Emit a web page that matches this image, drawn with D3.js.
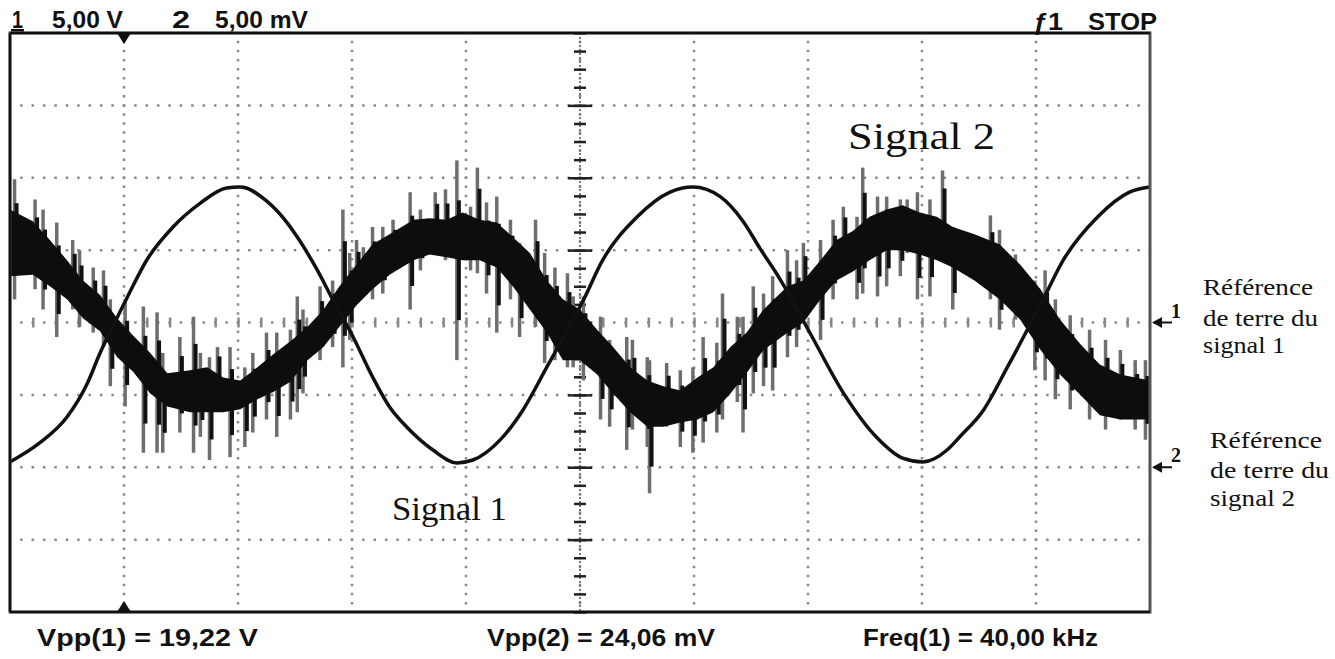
<!DOCTYPE html>
<html>
<head>
<meta charset="utf-8">
<script src="https://cdn.jsdelivr.net/npm/d3@7"></script>
<style>
body{margin:0;background:#fff}
.lbl{font-family:"Liberation Sans",Arial,sans-serif;font-weight:bold;font-size:23px;fill:#111}
.ann{font-family:"Liberation Serif","Times New Roman",serif;fill:#111}
</style>
</head>
<body>
<script>
// channel 1 : smooth sine, time in divisions, volts (5 V/div, ground at centre)
var ch1Time=[0,0.26,0.50,0.68,0.79,0.90,1.03,1.20,1.43,1.67,1.90,2.02,2.25,2.43,2.52,2.69,2.83,3.01,3.18,3.33,3.48,3.71,3.92,4.06,4.30,4.50,4.71,5.03,5.20,5.50,5.79,5.99,6.23,6.43,6.58,6.75,7.02,7.31,7.61,7.83,8.01,8.22,8.33,8.54,8.75,9.06,9.24,9.54,9.82,10.00];
var ch1Volt=[-9.63,-8.32,-6.53,-4.18,-2.11,-0.31,1.76,4.32,6.60,8.25,9.29,9.36,8.40,6.90,5.90,3.70,1.60,-1.00,-3.76,-5.84,-7.22,-8.81,-9.70,-9.50,-8.11,-6.04,-3.07,1.55,4.32,7.29,9.01,9.36,8.70,7.00,5.10,3.05,-0.76,-4.86,-8.00,-9.37,-9.63,-8.81,-7.91,-6.04,-3.07,1.55,4.32,7.29,9.01,9.36];

// channel 2 : noisy trace, dense core band (mV, 5 mV/div, ground 2 div below centre)
var ch2Time=[0,0.20,0.35,0.50,0.64,0.79,0.94,1.08,1.23,1.38,1.58,1.73,1.87,2.02,2.17,2.31,2.46,2.61,2.75,2.89,3.04,3.18,3.33,3.54,3.68,3.83,3.97,4.12,4.27,4.41,4.56,4.71,4.85,5.00,5.15,5.29,5.44,5.59,5.73,5.88,6.03,6.17,6.32,6.46,6.61,6.82,6.96,7.11,7.25,7.39,7.54,7.69,7.83,7.98,8.13,8.27,8.46,8.68,8.86,9.04,9.21,9.39,9.56,9.74,10.00];
var ch2High=[17.8,17.0,15.7,14.3,12.9,11.9,10.3,9.1,7.9,6.5,6.7,6.9,6.2,6.0,6.9,7.8,8.7,9.7,10.9,12.5,14.0,15.4,16.1,17.1,17.2,17.1,17.6,17.1,16.9,15.9,14.8,12.9,11.6,10.9,9.5,8.3,6.9,6.0,5.6,5.3,6.2,6.9,8.3,9.3,10.9,12.5,12.9,14.3,15.7,16.3,17.3,17.8,18.1,17.6,17.3,16.6,16.1,15.4,14.0,12.3,10.2,8.5,7.1,6.4,6.0];
var ch2Low=[13.2,13.3,12.5,11.6,10.3,9.4,7.6,6.6,5.1,4.2,3.8,3.8,3.8,4.0,4.7,5.2,5.9,7.4,8.3,9.7,11.2,12.3,13.3,14.3,14.7,14.5,14.3,14.3,13.8,12.5,10.9,9.3,7.4,7.4,6.4,5.1,3.8,2.8,2.8,3.1,3.3,3.8,5.1,6.5,8.1,9.3,10.0,11.6,12.9,13.5,14.3,15.0,15.0,14.7,14.3,13.8,12.9,11.6,10.2,8.1,6.4,5.0,3.6,3.3,3.3];

// channel 2 : noise spikes (min / max of each column, mV)
var spikeTime=[0.04,0.22,0.29,0.41,0.55,0.61,0.73,0.82,0.88,1.01,1.17,1.29,1.34,1.49,1.61,1.67,1.75,1.82,1.93,2.06,2.13,2.25,2.34,2.46,2.52,2.57,2.72,2.83,2.92,2.98,3.04,3.10,3.18,3.27,3.36,3.51,3.60,3.73,3.82,3.92,4.04,4.10,4.18,4.27,4.39,4.47,4.61,4.69,4.78,4.89,4.94,5.03,5.18,5.26,5.41,5.46,5.59,5.61,5.76,5.88,5.99,6.08,6.20,6.25,6.38,6.43,6.52,6.61,6.69,6.82,6.90,6.96,7.11,7.22,7.31,7.43,7.48,7.61,7.69,7.81,7.87,7.96,8.07,8.18,8.27,8.60,8.68,8.82,8.99,9.08,9.17,9.30,9.47,9.61,9.74,9.87,9.96];
var spikeHigh=[19.9,18.5,17.8,16.9,15.7,15.0,13.8,13.6,11.6,11.6,11.1,10.7,7.9,9.0,10.4,7.9,7.6,8.3,8.3,6.9,7.9,9.3,9.3,9.5,11.8,10.9,12.5,12.9,17.8,14.8,15.7,15.2,16.6,16.6,17.1,19.0,17.8,19.0,19.2,21.2,18.0,20.7,18.3,18.7,17.1,15.5,17.1,14.8,13.8,13.4,11.8,11.8,10.4,8.8,9.0,8.8,7.6,7.4,7.2,6.7,6.9,9.0,8.6,12.0,10.4,10.4,12.5,12.0,13.2,15.0,14.3,15.5,15.7,17.1,18.0,17.3,20.7,18.7,18.7,18.5,18.5,19.0,18.5,20.5,16.6,17.4,16.4,14.7,12.9,13.6,11.6,10.5,9.5,8.8,8.1,7.4,7.4];
var spikeLow=[11.6,12.3,10.9,9.0,10.9,9.7,9.3,8.3,5.6,4.2,1.0,1.0,1.0,2.4,1.0,2.1,0.5,5.1,0.7,1.4,2.4,3.3,2.1,3.3,3.8,5.1,7.4,8.3,6.9,8.8,11.6,12.0,11.6,12.0,13.6,10.9,13.6,15.0,14.3,7.4,13.6,13.4,12.0,9.3,11.6,9.0,9.7,7.2,7.4,6.9,6.9,6.0,3.3,2.8,1.2,2.6,1.4,-1.8,2.8,1.4,1.0,1.7,2.4,3.3,4.5,2.4,5.1,5.6,5.3,7.6,8.3,10.9,8.8,11.6,14.3,11.6,12.0,11.8,12.5,13.2,14.8,11.6,11.8,14.3,10.9,11.6,9.5,10.2,6.7,6.0,4.7,4.0,3.3,2.6,3.3,2.6,1.9];

var topLabels=["1","5,00 V","2","5,00 mV"];
var stopLabels=["ƒ1","STOP"];
var bottomLabels=["Vpp(1) = 19,22 V","Vpp(2) = 24,06 mV","Freq(1) = 40,00 kHz"];
var traceNames=["Signal 2","Signal 1"];
var groundNotes1=["Référence","de terre du","signal 1"];
var groundNotes2=["Référence","de terre du","signal 2"];

var W=1335,H=659,
    margin={top:33,left:10},
    width=1140,height=579;

var svg=d3.select("body").append("svg").attr("width",W).attr("height",H);

var x=d3.scaleLinear().domain([0,10]).range([0,width]);
var yDiv=d3.scaleLinear().domain([-4,4]).range([height,0]);
var y1=d3.scaleLinear().domain([-20,20]).range([height,0]);
var y2=d3.scaleLinear().domain([-10,30]).range([height,0]);

var g=svg.append("g").attr("transform","translate("+margin.left+","+margin.top+")");

svg.append("defs").append("clipPath").attr("id","clip")
  .append("rect").attr("width",width).attr("height",height);

// dotted graticule
g.selectAll(".hgrid").data(d3.range(-3,4)).enter().append("line")
  .attr("x1",0).attr("x2",width)
  .attr("y1",function(d){return yDiv(d);}).attr("y2",function(d){return yDiv(d);})
  .attr("stroke","#8a8a8a").attr("stroke-width",2.5)
  .attr("stroke-dasharray","2.5,8.9").attr("stroke-dashoffset",1.25);

g.selectAll(".vgrid").data(d3.range(1,10)).enter().append("line")
  .attr("y1",0).attr("y2",height)
  .attr("x1",function(d){return x(d);}).attr("x2",function(d){return x(d);})
  .attr("stroke","#8a8a8a").attr("stroke-width",2.5)
  .attr("stroke-dasharray","2.5,6.55").attr("stroke-dashoffset",1.25);

// centre axes
g.append("line").attr("x1",x(5)).attr("x2",x(5)).attr("y1",0).attr("y2",height)
  .attr("stroke","#777").attr("stroke-width",2).attr("stroke-dasharray","2,2");

function centreAxis(axis,values,size){
  g.append("g").attr("transform","translate("+x(5)+",0)")
    .call(axis(yDiv).tickValues(values).tickSize(size).tickFormat(""))
    .call(function(s){s.select(".domain").remove();
      s.selectAll("line").attr("stroke","#222").attr("stroke-width",2.5);});
}
var quarter=d3.range(-4,4.001,0.25);
centreAxis(d3.axisLeft,quarter,6);
centreAxis(d3.axisRight,quarter,6);
centreAxis(d3.axisLeft,d3.range(-3,4),12);
centreAxis(d3.axisRight,d3.range(-3,4),12);

function hAxis(axis){
  g.append("g").attr("transform","translate(0,"+yDiv(0)+")")
    .call(axis(x).tickValues(d3.range(0.2,10,0.2)).tickSize(5).tickFormat(""))
    .call(function(s){s.select(".domain").remove();
      s.selectAll("line").attr("stroke","#888").attr("stroke-width",2.5);});
}
hAxis(d3.axisTop);
hAxis(d3.axisBottom);

// traces
var traces=g.append("g").attr("clip-path","url(#clip)");

var ch2=ch2Time.map(function(t,i){return {t:t,hi:ch2High[i],lo:ch2Low[i]};});
var spikes=spikeTime.map(function(t,i){return {t:t,hi:spikeHigh[i],lo:spikeLow[i]};});

// faint tips of the spikes
traces.selectAll(".spike").data(spikes).enter().append("line")
  .attr("x1",function(d){return x(d.t);}).attr("x2",function(d){return x(d.t);})
  .attr("y1",function(d){return y2(d.hi);}).attr("y2",function(d){return y2(d.lo);})
  .attr("stroke","#6e6e6e").attr("stroke-width",3.5);

// dense middle of the spikes
traces.selectAll(".spikeCore").data(spikes).enter().append("line")
  .attr("x1",function(d){return x(d.t)+2;}).attr("x2",function(d){return x(d.t)+2;})
  .attr("y1",function(d){return y2(d.hi-(d.hi-d.lo)*0.2);})
  .attr("y2",function(d){return y2(d.lo+(d.hi-d.lo)*0.2);})
  .attr("stroke","#111").attr("stroke-width",4);

traces.append("path").datum(ch2)
  .attr("d",d3.area().x(function(d){return x(d.t);})
    .y0(function(d){return y2(d.lo);}).y1(function(d){return y2(d.hi);}))
  .attr("fill","#0d0d0d");

var ch1=ch1Time.map(function(t,i){return {t:t,v:ch1Volt[i]};});
traces.append("path").datum(ch1)
  .attr("d",d3.line().x(function(d){return x(d.t);}).y(function(d){return y1(d.v);})
    .curve(d3.curveMonotoneX))
  .attr("fill","none").attr("stroke","#111").attr("stroke-width",3.5);

// frame
g.append("rect").attr("width",width).attr("height",height)
  .attr("fill","none").attr("stroke","#555").attr("stroke-width",3);
g.append("line").attr("x1",0).attr("x2",width).attr("y1",0).attr("y2",0)
  .attr("stroke","#111").attr("stroke-width",2.5);
g.append("line").attr("x1",0).attr("x2",width).attr("y1",height).attr("y2",height)
  .attr("stroke","#111").attr("stroke-width",2.5);
g.append("line").attr("x1",0).attr("x2",0).attr("y1",0).attr("y2",height)
  .attr("stroke","#111").attr("stroke-width",2.5);

// trigger markers
g.append("path").attr("d","M-7,0L7,0L0,11Z")
  .attr("transform","translate("+x(1)+",0)").attr("fill","#111");
g.append("path").attr("d","M-7,0L7,0L0,-11Z")
  .attr("transform","translate("+x(1)+","+height+")").attr("fill","#111");

// ground references
[[y1(0),"1"],[y2(0),"2"]].forEach(function(r){
  var yy=r[0];
  g.append("line").attr("x1",width+4).attr("x2",width+22).attr("y1",yy).attr("y2",yy)
    .attr("stroke","#111").attr("stroke-width",2);
  g.append("path").attr("d","M"+(width+2)+","+yy+"l10,-5.5l0,11Z").attr("fill","#111");
  g.append("text").attr("class","ann").attr("x",width+21).attr("y",yy-5)
    .style("font-size","20px").style("font-weight","bold").text(r[1]);
});

// instrument texts
function label(txt,xx,yy,len,cls,size){
  var t=svg.append("text").attr("class",cls).attr("x",xx).attr("y",yy)
    .attr("textLength",len).attr("lengthAdjust","spacingAndGlyphs").text(txt);
  if(size) t.style("font-size",size+"px");
  return t;
}
label(topLabels[0],12,28,11,"lbl");
svg.append("rect").attr("x",11).attr("y",29).attr("width",13).attr("height",2.5).attr("fill","#111");
label(topLabels[1],52,28,71,"lbl");
label(topLabels[2],172,28,18,"lbl");
label(topLabels[3],215,28,93,"lbl");
label(stopLabels[0],1033,30,30,"lbl");
label(stopLabels[1],1088,30,69,"lbl");

label(bottomLabels[0],37,646,221,"lbl");
label(bottomLabels[1],487,646,228,"lbl");
label(bottomLabels[2],863,646,235,"lbl");

label(traceNames[0],848,149,147,"ann",38);
label(traceNames[1],392,520,115,"ann",34);

var w1=[110,115,82],w2=[112,119,85];
groundNotes1.forEach(function(s,i){label(s,1203,[295,326,353][i],w1[i],"ann",24);});
groundNotes2.forEach(function(s,i){label(s,1210,[448,478,506][i],w2[i],"ann",24);});
</script>
</body>
</html>
